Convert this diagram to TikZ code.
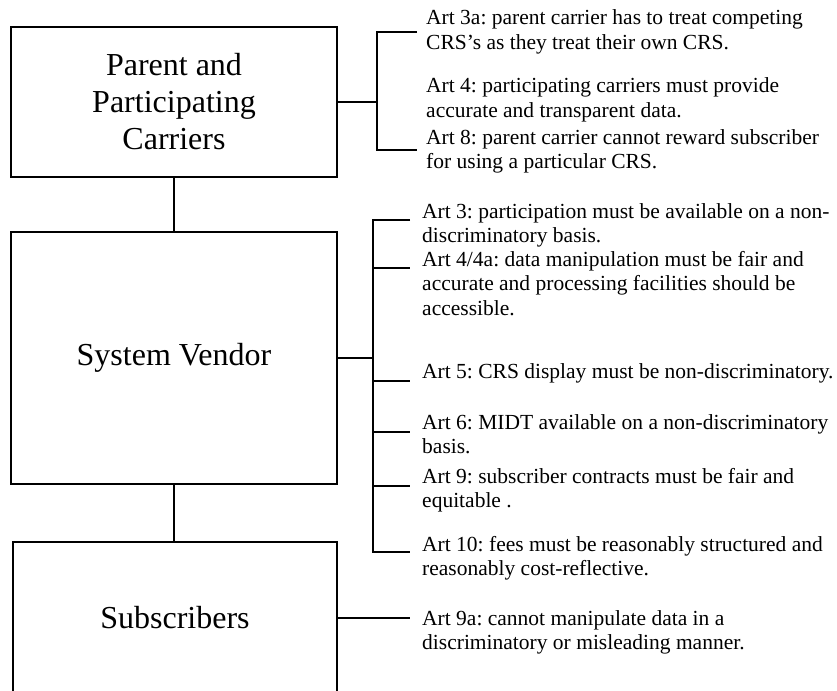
\documentclass[tikz,border=0pt]{standalone}
\usepackage{fontspec}
\setmainfont{Liberation Serif}
\frenchspacing
\begin{document}
\begin{tikzpicture}[x=1pt,y=-1pt,
  box/.style={draw, line width=1.1pt, rectangle, inner sep=0pt, align=center,
    font=\fontsize{32}{37}\selectfont},
  art/.style={anchor=base west, inner sep=0pt, align=left,
    font=\fontsize{21.5}{24.7}\selectfont},
  conn/.style={draw, line width=1.1pt}]
\useasboundingbox (0,0) rectangle (837,690);
\begin{scope}
\clip (0,0) rectangle (837,690);
% boxes
\node[box, minimum width=326pt, minimum height=150pt] (p) at (174,102)
  {Parent and\\Participating\\Carriers};
\node[box, minimum width=326pt, minimum height=252pt] (v) at (174,358)
  {System Vendor};
\node[box, minimum width=324pt, minimum height=152pt] (s) at (175,618)
  {Subscribers};
% vertical connectors
\draw[conn] (p.south) -- (p.south |- v.north);
\draw[conn] (v.south) -- (v.south |- s.north);
% group 1 texts (y = baseline of last line)
\node[art] (a3a) at (426,49.7) {Art 3a: parent carrier has to treat competing\\CRS’s as they treat their own CRS.};
\node[art] (a4) at (426,117.7) {Art 4: participating carriers must provide\\accurate and transparent data.};
\node[art] (a8) at (426,168.7) {Art 8: parent carrier cannot reward subscriber\\for using a particular CRS.};
% group 1 bracket
\coordinate (k1m) at (377,102);
\coordinate (k1t) at (377,32);
\coordinate (k1b) at (377,150);
\coordinate (e3a) at (417,32);
\coordinate (e8) at (417,150);
\draw[conn] (p.east |- k1m) -- (k1m);
\draw[conn] (e3a) -- (k1t) -- (k1b) -- (e8);
% group 2 texts
\node[art] (a3) at (422,242.7) {Art 3: participation must be available on a non-\\discriminatory basis.};
\node[art] (a44) at (422,315.4) {Art 4/4a: data manipulation must be fair and\\accurate and processing facilities should be\\accessible.};
\node[art] (a5) at (422,378) {Art 5: CRS display must be non-discriminatory.};
\node[art] (a6) at (422,453.7) {Art 6: MIDT available on a non-discriminatory\\basis.};
\node[art] (a9) at (422,507.7) {Art 9: subscriber contracts must be fair and\\equitable .};
\node[art] (a10) at (422,575.7) {Art 10: fees must be reasonably structured and\\reasonably cost-reflective.};
% group 2 bracket
\coordinate (k2m) at (373,358);
\coordinate (k2t) at (373,220);
\coordinate (k2b) at (373,552);
\coordinate (e3) at (410,220);
\coordinate (e44) at (410,268);
\coordinate (e5) at (410,381);
\coordinate (e6) at (410,432);
\coordinate (e9) at (410,486);
\coordinate (e10) at (410,552);
\draw[conn] (v.east) -- (k2m);
\draw[conn] (e3) -- (k2t) -- (k2b) -- (e10);
\draw[conn] (k2t |- e44) -- (e44);
\draw[conn] (k2t |- e5) -- (e5);
\draw[conn] (k2t |- e6) -- (e6);
\draw[conn] (k2t |- e9) -- (e9);
% group 3
\node[art] (a9a) at (422,649.7) {Art 9a: cannot manipulate data in a\\discriminatory or misleading manner.};
\coordinate (e9a) at (410,618);
\draw[conn] (s.east) -- (e9a);
\end{scope}
\end{tikzpicture}
\end{document}
